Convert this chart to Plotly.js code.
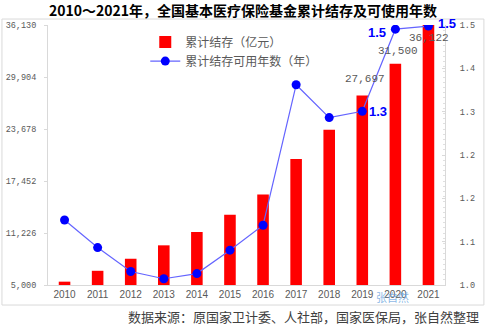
<!DOCTYPE html>
<html>
<head>
<meta charset="utf-8">
<script src="https://cdn.plot.ly/plotly-3.0.1.min.js"></script>
<style>html,body{margin:0;padding:0;background:#fff;}#chart{width:486px;height:327px;}</style>
</head>
<body>
<div id="chart"></div>
<script>
const years = [2010, 2011, 2012, 2013, 2014, 2015, 2016, 2017, 2018, 2019, 2020, 2021];
const balance = [5400, 6700, 8150, 9750, 11350, 13400, 15850, 20100, 23600, 27697, 31500, 36122];
const yearsUsable = [1.125, 1.072, 1.026, 1.012, 1.022, 1.067, 1.115, 1.385, 1.322, 1.334, 1.492, 1.498];
const leftTicks = [5000, 11226, 17452, 23678, 29904, 36130];
const rightTicks = [1.0, 1.0833, 1.1667, 1.25, 1.3333, 1.4167, 1.5];
const rightTickText = ["1.0", "1.1", "1.2", "1.2", "1.3", "1.4", "1.5"];
const balanceLabelYears = [2019, 2020, 2021];
const usableLabelYears = [2019, 2020, 2021];
const seriesNames = ["累计结存（亿元）", "累计结存可用年数（年）"];
const titleText = "2010～2021年，全国基本医疗保险基金累计结存及可使用年数";
const sourceText = "数据来源：原国家卫计委、人社部，国家医保局，张自然整理";
const watermarkText = "张自然";

const fmt = v => v.toLocaleString('en-US');
const monoFont = '"Liberation Mono", "DejaVu Sans Mono", monospace';
const cjkFont = '"Noto Sans CJK SC", "Noto Sans", sans-serif';

const traces = [
  {type: 'bar', x: years, y: balance, name: seriesNames[0], width: 0.35,
   marker: {color: '#ff0000', line: {width: 0}}, yaxis: 'y', hoverinfo: 'none'},
  {type: 'scatter', mode: 'lines+markers', x: years, y: yearsUsable, name: seriesNames[1],
   yaxis: 'y2', line: {color: '#6464ff', width: 1.2},
   marker: {color: '#0000ff', size: 9}, hoverinfo: 'none'}
];

const balShift = {2019: [3, 8], 2020: [3, 5], 2021: [1, -21]};
const usableShift = {2019: ['left', 5, 0], 2020: ['right', -7, -3], 2021: ['left', 8, 3]};

const annotations = [];
balanceLabelYears.forEach(yr => {
  const i = years.indexOf(yr);
  annotations.push({x: yr, y: balance[i], xref: 'x', yref: 'y', text: fmt(balance[i]),
    showarrow: false, yanchor: 'bottom', xanchor: 'center',
    xshift: balShift[yr][0], yshift: balShift[yr][1],
    font: {family: monoFont, size: 11, color: '#595959'}});
});
usableLabelYears.forEach(yr => {
  const i = years.indexOf(yr);
  const s = usableShift[yr];
  annotations.push({x: yr, y: yearsUsable[i], xref: 'x', yref: 'y2', text: '<b>' + yearsUsable[i].toFixed(1) + '</b>',
    showarrow: false, xanchor: s[0], yanchor: 'middle', xshift: s[1], yshift: s[2],
    font: {family: '"Liberation Sans", Arial, sans-serif', size: 13, color: '#0000ff'}});
});
annotations.push({x: 0.49, y: 1.058, xref: 'paper', yref: 'paper', yanchor: 'middle', xanchor: 'center',
  text: '<b>' + titleText + '</b>', showarrow: false,
  font: {family: cjkFont, size: 14, color: '#000000'}});
annotations.push({x: 1.09, y: -0.12, xref: 'paper', yref: 'paper', xanchor: 'right', yanchor: 'middle',
  text: sourceText, showarrow: false, font: {family: cjkFont, size: 13, color: '#404040'}});
annotations.push({x: 2020, y: 0, xref: 'x', yref: 'paper', xanchor: 'center', yanchor: 'top', yshift: -2, xshift: -3,
  text: watermarkText, showarrow: false, font: {family: cjkFont, size: 11, color: 'rgba(100,160,220,0.75)'}});

const layout = {
  width: 486, height: 327,
  margin: {l: 48, r: 41, t: 25, b: 42, pad: 0},
  paper_bgcolor: '#ffffff', plot_bgcolor: '#ffffff',
  showlegend: true,
  legend: {x: 0.245, y: 0.99, xanchor: 'left', yanchor: 'top', bgcolor: 'rgba(0,0,0,0)',
    font: {family: cjkFont, size: 12, color: '#595959'}, tracegroupgap: 4, itemwidth: 30},
  xaxis: {range: [2009.5, 2021.5], tickmode: 'array', tickvals: years, ticktext: years.map(String),
    showgrid: false, zeroline: false, showline: true, linecolor: '#d9d9d9', linewidth: 1,
    ticks: '', tickfont: {family: '"Liberation Sans", Arial, sans-serif', size: 10, color: '#595959'}},
  yaxis: {range: [5000, 36130], tickmode: 'array', tickvals: leftTicks, ticktext: leftTicks.map(fmt),
    showgrid: false, zeroline: false, showline: true, linecolor: '#d9d9d9', linewidth: 1,
    ticks: 'outside', ticklen: 3, tickcolor: '#d9d9d9', ticklabelstandoff: 6,
    tickfont: {family: monoFont, size: 8.5, color: '#595959'}},
  yaxis2: {range: [1.0, 1.5], overlaying: 'y', side: 'right', tickmode: 'array', tickvals: rightTicks, ticktext: rightTickText,
    showgrid: false, zeroline: false, showline: true, linecolor: '#d9d9d9', linewidth: 1,
    ticks: 'inside', ticklen: 3, tickcolor: '#d9d9d9', ticklabelstandoff: 12,
    minor: {tickmode: 'linear', tick0: 1.0, dtick: 0.01, ticks: 'inside', ticklen: 2, tickcolor: '#e0e0e0'},
    tickfont: {family: monoFont, size: 8.5, color: '#595959'}},
  shapes: [{type: 'rect', xref: 'paper', yref: 'paper', x0: -0.116, x1: 1.098, y0: -0.077, y1: 1.023,
    line: {color: '#d9d9d9', width: 1}, fillcolor: 'rgba(0,0,0,0)', layer: 'below'}],
  annotations: annotations
};

Plotly.newPlot('chart', traces, layout, {displayModeBar: false, staticPlot: true});
</script>
</body>
</html>
